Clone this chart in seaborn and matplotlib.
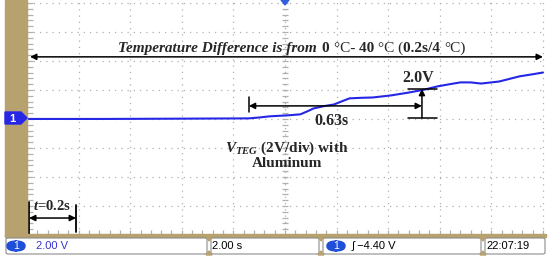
import numpy as np
import pandas as pd
import matplotlib
matplotlib.use("Agg")
import matplotlib.pyplot as plt
import seaborn as sns
from matplotlib.patches import Polygon, FancyBboxPatch, Rectangle

# scope trace: time (s) and V_TEG (V)
time_s = [0.0, 0.30, 0.60, 0.86, 0.90, 0.94, 1.02, 1.06, 1.09, 1.11, 1.15, 1.19,
          1.25, 1.30, 1.34, 1.41, 1.48, 1.54, 1.59, 1.64, 1.68, 1.72, 1.76, 1.83,
          1.87, 1.91, 1.96, 2.0]
volts = [0.0, 0.0, 0.02, 0.04, 0.10, 0.18, 0.26, 0.32, 0.55, 0.72, 0.88, 1.0,
         1.42, 1.46, 1.48, 1.62, 1.82, 2.02, 2.24, 2.40, 2.52, 2.52, 2.44, 2.58,
         2.76, 2.94, 3.08, 3.2]

time_div = 0.2     # s/div
volt_div = 2.0     # V/div
status_labels = ["2.00 V", "2.00 s", "\u222b \u22124.40 V", "22:07:19"]

TAN = "#b7a26f"
BLUE = "#2626e6"
W, H = 550, 262

sns.set_theme(style="white")
plt.rcParams["font.family"] = ["Liberation Serif", "DejaVu Serif"]
plt.rcParams["mathtext.fontset"] = "custom"
plt.rcParams["mathtext.it"] = "Liberation Serif:italic:bold"
plt.rcParams["mathtext.rm"] = "Liberation Serif:bold"

fig = plt.figure(figsize=(W / 100, H / 100), dpi=100)
fig.patch.set_facecolor("white")


def fx(px):
    return px / W


def fy(py):
    return 1 - py / H


# plot area: 10 x 8 divisions
ax = fig.add_axes([fx(27), fy(235), (545 - 27) / W, 235 / H])
df = pd.DataFrame({"t": time_s, "v": volts})
ax.set_xlim(0, 10.04 * time_div)
ax.set_ylim(-4 * volt_div, 4.1 * volt_div)
ax.set_xticks(np.arange(0, 10.01, 1) * time_div)
ax.set_yticks(np.arange(-4, 4.01, 1) * volt_div)
ax.grid(True, color="#b0b0b0", linestyle=(0, (1, 4)), linewidth=0.9)
ax.tick_params(left=False, bottom=False, labelleft=False, labelbottom=False)
for s in ax.spines.values():
    s.set_visible(False)

# centre axis minor ticks
yt = np.arange(-4, 4.1, 0.2) * volt_div
ax.plot(np.full_like(yt, 5 * time_div), yt, ls="none", marker="_", ms=4,
        color="#b0b0b0", mew=0.9)
ax.plot(np.full_like(yt, 0.01), yt, ls="none", marker="_", ms=5,
        color="#b0b0b0", mew=0.9)
xt = np.arange(0, 10.01, 0.2) * time_div
ax.plot(xt, np.full_like(xt, -4 * volt_div + 0.12), ls="none", marker="|",
        ms=4, color="#b0b0b0", mew=0.9, clip_on=False)

sns.lineplot(data=df, x="t", y="v", ax=ax, color=BLUE, lw=1.5)
ax.set_xlabel("")
ax.set_ylabel("")

# annotations
ak = dict(arrowstyle="<|-|>", color="black", lw=1.1, mutation_scale=9,
          shrinkA=0, shrinkB=0)
ax.annotate("", xy=(0.012, 4.28), xytext=(2.0, 4.28), arrowprops=ak,
            annotation_clip=False)

parts = [("Temperature Difference is from", "bold", "italic"),
         ("0 ", "bold", "normal"), ("\u00b0C- ", "normal", "normal"),
         ("40 ", "bold", "normal"), ("\u00b0C (", "normal", "normal"),
         ("0.2s/4 ", "bold", "normal"), ("\u00b0C)", "normal", "normal")]
txt = ax.text(0.353, 4.62, parts[0][0], fontsize=11, fontweight=parts[0][1],
              fontstyle=parts[0][2], va="baseline")
for i, (s, w, st) in enumerate(parts[1:]):
    txt = ax.annotate(s, xycoords=txt, xy=(1, 0), va="bottom", fontsize=11,
                      fontweight=w, fontstyle=st,
                      xytext=(4 if i == 0 else 0, 0), textcoords="offset points")

ax.plot([0.86, 0.86], [0.48, 1.52], color="black", lw=1.1)
ax.annotate("", xy=(0.86, 0.9), xytext=(1.531, 0.9),
            arrowprops=dict(ak, arrowstyle="<|-|>"))
ax.text(1.182, -0.15, "0.63s", fontsize=11.5, fontweight="bold",
        ha="center", va="center")

ax.annotate("", xy=(1.531, 2.07), xytext=(1.531, 0.07),
            arrowprops=dict(ak, arrowstyle="-|>"))
ax.plot([1.477, 1.589], [2.07, 2.07], color="black", lw=1.1)
ax.plot([1.477, 1.589], [0.07, 0.07], color="black", lw=1.1)
ax.text(1.516, 2.8, "2.0V", fontsize=11.5, fontweight="bold",
        ha="center", va="center")

ax.text(1.008, -2.0, r"$V_{TEG}$ (2V/div) with", fontsize=11, fontweight="bold",
        ha="center", va="center")
ax.text(1.008, -3.1, "Aluminum", fontsize=11, fontweight="bold",
        ha="center", va="center")

ax.text(0.022, -6.0, r"$t$=0.2s", fontsize=10.5, fontweight="bold",
        ha="left", va="center")
ax.annotate("", xy=(0.008, -6.83), xytext=(0.19, -6.83), arrowprops=ak)
ax.plot([0.008, 0.008], [-5.72, -8.1], color="black", lw=1.3, clip_on=False)
ax.plot([0.19, 0.19], [-5.93, -7.79], color="black", lw=1.3)

# scope frame: tan left bar and bottom rule
fig.patches.append(Rectangle((fx(5), fy(236)), (27 - 5) / W, 236 / H,
                             transform=fig.transFigure, color=TAN, zorder=0))
fig.patches.append(Rectangle((fx(5), fy(237)), (546 - 5) / W, 3 / H,
                             transform=fig.transFigure, color=TAN, zorder=0))
# channel marker and trigger marker
pent = [(5, 112), (21, 112), (27, 118), (21, 124), (5, 124)]
fig.patches.append(Polygon([(fx(a), fy(b)) for a, b in pent], closed=True,
                           transform=fig.transFigure, color=BLUE, zorder=5))
fig.text(fx(12), fy(118.5), "1", color="white", fontsize=8, fontweight="bold",
         family=["Liberation Sans", "DejaVu Sans"], ha="center", va="center",
         zorder=6)
tri = [(281, 0), (289, 0), (285, 5)]
fig.patches.append(Polygon([(fx(a), fy(b)) for a, b in tri], closed=True,
                           transform=fig.transFigure, color="#3060e0", zorder=5))

# status bar
boxes = [(5, 208), (210, 320), (322, 482), (484, 546)]
for x0, x1 in boxes:
    fig.patches.append(FancyBboxPatch((fx(x0 + 1), fy(254)), (x1 - x0 - 2) / W,
                                      16 / H, boxstyle="round,pad=0,rounding_size=0.005",
                                      transform=fig.transFigure, fc="white",
                                      ec="#8c8c8c", lw=0.8, zorder=2))
for xs in [209, 321, 483]:
    for a, b, c in [((xs - 3, 237), (xs + 3, 237), (xs, 241)),
                    ((xs - 3, 255), (xs + 3, 255), (xs, 251))]:
        fig.patches.append(Polygon([(fx(p[0]), fy(p[1])) for p in (a, b, c)],
                                   transform=fig.transFigure, color=TAN, zorder=3))
for px in [7, 327]:
    fig.patches.append(FancyBboxPatch((fx(px), fy(251)), 18 / W, 10 / H,
                                      boxstyle="round,pad=0,rounding_size=0.018",
                                      transform=fig.transFigure, color="#1f4fd8",
                                      zorder=4))
    fig.text(fx(px + 9), fy(246), "1", color="white", fontsize=7.5,
             family=["Liberation Sans", "DejaVu Sans"], ha="center", va="center",
             zorder=6)
sb = dict(fontsize=8, family=["Liberation Sans Narrow", "Liberation Sans", "DejaVu Sans"],
          va="center", zorder=5)
fig.text(fx(36), fy(246), status_labels[0], color="#3535d0", **sb)
fig.text(fx(212), fy(246), status_labels[1], color="black", **sb)
fig.text(fx(352), fy(246), status_labels[2], color="black", **sb)
fig.text(fx(486), fy(246), status_labels[3], color="black", **sb)

fig.savefig("out.png", dpi=100)
